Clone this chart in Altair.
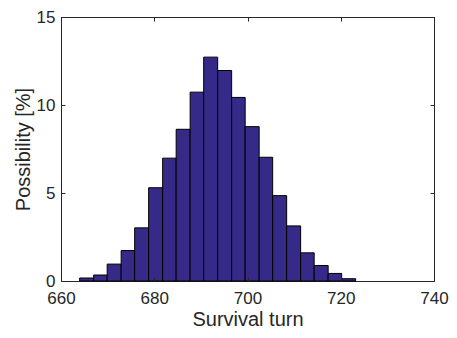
import altair as alt
import pandas as pd

# Histogram bin edges (Survival turn) and bar heights (Possibility, %)
bin_edges = [664.0, 667.0, 669.9, 672.9, 675.8, 678.8, 681.8, 684.7, 687.7, 690.6,
             693.6, 696.6, 699.5, 702.5, 705.4, 708.4, 711.4, 714.3, 717.3, 720.2, 723.2]
possibility = [0.17, 0.34, 0.96, 1.73, 3.02, 5.30, 6.98, 8.62, 10.73, 12.72,
               11.96, 10.43, 8.77, 7.03, 4.85, 3.13, 1.60, 0.88, 0.43, 0.13]
x_ticks = [660, 680, 700, 720, 740]
y_ticks = [0, 5, 10, 15]

df = pd.DataFrame({"lo": bin_edges[:-1], "hi": bin_edges[1:], "p": possibility})

FONT = "Liberation Sans"
INK = "#262626"
xs = alt.Scale(domain=[660, 740], nice=False, zero=False)
ys = alt.Scale(domain=[0, 15], nice=False)

bars = alt.Chart(df).mark_rect(fill="#352A87", stroke="black", strokeWidth=1).encode(
    x=alt.X("lo:Q", scale=xs, axis=alt.Axis(
        orient="bottom", values=x_ticks, ticks=False, tickSize=0, domain=False, grid=False,
        labelPadding=9, labelFontSize=17, labelFlush=False,
        title="Survival turn", titleFontSize=20, titleFontWeight="normal", titlePadding=3)),
    x2="hi",
    y=alt.Y("p:Q", scale=ys, axis=alt.Axis(
        orient="left", values=y_ticks, ticks=False, tickSize=0, domain=False, grid=False,
        labelPadding=6, labelFontSize=17, labelFlush=False,
        title="Possibility [%]", titleFontSize=20, titleFontWeight="normal", titlePadding=3)),
    y2=alt.datum(0),
)

ticks_bl = alt.Chart(df).mark_point(opacity=0).encode(
    x=alt.X("lo:Q", scale=xs, axis=alt.Axis(
        orient="bottom", offset=-4, values=x_ticks, labels=False, domain=False, grid=False,
        ticks=True, tickSize=4, tickColor=INK, tickWidth=1, title=None, zindex=2)),
    y=alt.Y("p:Q", scale=ys, axis=alt.Axis(
        orient="left", offset=-4, values=y_ticks, labels=False, domain=False, grid=False,
        ticks=True, tickSize=4, tickColor=INK, tickWidth=1, title=None, zindex=2)),
)

ticks_tr = alt.Chart(df).mark_point(opacity=0).encode(
    x=alt.X("lo:Q", scale=xs, axis=alt.Axis(
        orient="top", offset=-4, values=x_ticks, labels=False, domain=False, grid=False,
        ticks=True, tickSize=4, tickColor=INK, tickWidth=1, title=None, zindex=2)),
    y=alt.Y("p:Q", scale=ys, axis=alt.Axis(
        orient="right", offset=-4, values=y_ticks, labels=False, domain=False, grid=False,
        ticks=True, tickSize=4, tickColor=INK, tickWidth=1, title=None, zindex=2)),
)

chart = alt.layer(bars, ticks_bl, ticks_tr).resolve_axis(
    x="independent", y="independent"
).properties(
    width=373, height=264,
    autosize=alt.AutoSizeParams(type="none"),
    padding={"left": 53, "top": 9, "right": 15, "bottom": 49},
    background="white",
).configure_view(
    stroke=INK, strokeWidth=1
).configure_axis(
    labelFont=FONT, titleFont=FONT, labelColor=INK, titleColor=INK
)

chart.save("out.html", embed_options={"renderer": "svg", "actions": False})
